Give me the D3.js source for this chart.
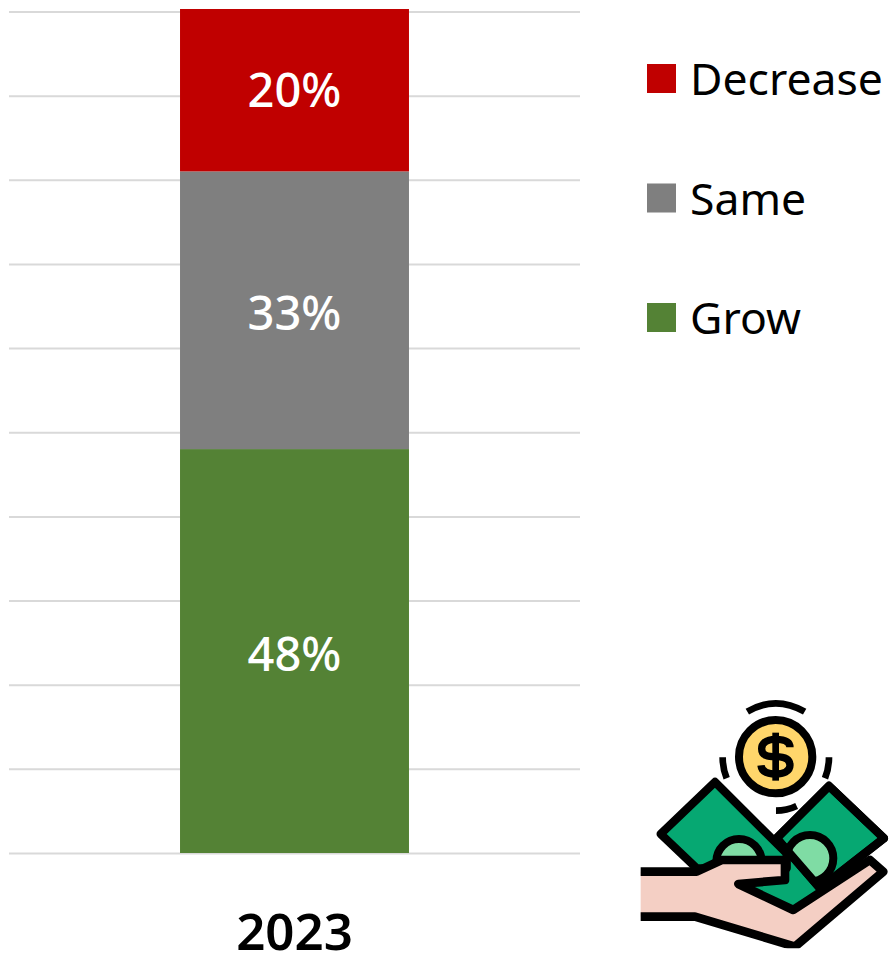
<!DOCTYPE html>
<html>
<head>
  <meta charset="utf-8">
  <script src="https://d3js.org/d3.v7.min.js"></script>
  <style>
    html, body { margin: 0; padding: 0; background: #fff; }
    svg { display: block; }
    text { font-family: "Noto Sans", "Open Sans", sans-serif; }
    .grid line { stroke: #d9d9d9; stroke-width: 2px; }
    .grid .domain { display: none; }
    .grid text { display: none; }
    .bar-label { fill: #fff; font-size: 47px; font-weight: 500; text-anchor: middle; }
    .legend-label { fill: #000; font-size: 44.5px; }
    .year-label { fill: #000; font-size: 51px; font-weight: 600; text-anchor: middle; }
  </style>
</head>
<body>
  <div id="vis"></div>
  <script>
    var years = ["2023"];
    // stack order, bottom to top
    var categories = ["Grow", "Same", "Decrease"];
    var values = [48, 33, 20];
    var colors = ["#548235", "#7f7f7f", "#c00000"];
    var legendOrder = ["Decrease", "Same", "Grow"];
    var gridTicks = [0, 10, 20, 30, 40, 50, 60, 70, 80, 90, 100];

    var width = 889, height = 953;

    var svg = d3.select("#vis").append("svg")
      .attr("width", width)
      .attr("height", height);

    var defs = svg.append("defs");

    var x = d3.scaleBand().domain(years).range([9, 580]).paddingOuter(0.747);
    var y = d3.scaleLinear().domain([0, 100]).range([853, 11.5]);
    var color = d3.scaleOrdinal().domain(categories).range(colors);

    ////////// grid //////////
    svg.append("g")
      .attr("class", "grid")
      .attr("transform", "translate(9,0)")
      .call(d3.axisRight(y).tickValues(gridTicks).tickSize(571).tickFormat(""));

    ////////// stacked bar //////////
    var row = { year: years[0] };
    categories.forEach(function (c, i) { row[c] = values[i]; });
    var series = d3.stack().keys(categories)([row]);

    // values add up to 101, the top of the bar is cut off just over the last gridline
    defs.append("clipPath").attr("id", "plot-clip")
      .append("rect").attr("x", 0).attr("y", 9).attr("width", width).attr("height", height);

    svg.append("g")
      .attr("clip-path", "url(#plot-clip)")
      .selectAll("rect")
      .data(series)
      .enter().append("rect")
      .attr("x", x(years[0]))
      .attr("width", x.bandwidth())
      .attr("y", d => y(d[0][1]))
      .attr("height", d => y(d[0][0]) - y(d[0][1]))
      .attr("fill", d => color(d.key));

    svg.append("g").selectAll("text")
      .data(series)
      .enter().append("text")
      .attr("class", "bar-label")
      .attr("x", x(years[0]) + x.bandwidth() / 2)
      .attr("y", d => (y(d[0][0]) + y(d[0][1])) / 2 + 3)
      .attr("dy", "0.36em")
      .text(d => (d[0][1] - d[0][0]) + "%");

    svg.append("text")
      .attr("class", "year-label")
      .attr("x", x(years[0]) + x.bandwidth() / 2)
      .attr("y", 950)
      .text(years[0]);

    ////////// legend //////////
    var legend = svg.append("g").selectAll("g")
      .data(legendOrder)
      .enter().append("g")
      .attr("transform", (d, i) => "translate(647," + (64 + i * 119.5) + ")");

    legend.append("rect")
      .attr("width", 29)
      .attr("height", 29)
      .attr("fill", d => color(d));

    legend.append("text")
      .attr("class", "legend-label")
      .attr("x", 43)
      .attr("y", 31)
      .text(d => d);

    ////////// money icon, drawn in 3x units //////////
    var icon = svg.append("g")
      .attr("transform", "translate(630,690) scale(0.3333)");

    var rightBill = "M597,288 L762,445 L570,595 L440,445 Z";
    var leftBill = "M255,276 L92,432 L200,535 L470,535 L470,490 Z";

    defs.append("clipPath").attr("id", "right-bill").append("path").attr("d", rightBill);
    defs.append("clipPath").attr("id", "left-bill").append("path").attr("d", leftBill);
    defs.append("clipPath").attr("id", "icon-clip")
      .append("rect").attr("x", 0).attr("y", 0).attr("width", 777).attr("height", 775);

    function shape(d, fill, w) {
      return icon.append("path")
        .attr("d", d)
        .attr("fill", fill)
        .attr("stroke", "#000")
        .attr("stroke-width", w == null ? 25 : w)
        .attr("stroke-linejoin", "round");
    }

    // sparks round the coin
    shape("M352,65 Q437,15 524,65", "none", 20);
    shape("M278,202 Q278,235 290,265", "none", 20);
    shape("M597,202 Q597,235 585,265", "none", 20);
    shape("M438,362 Q470,362 500,348", "none", 20);

    // coin
    icon.append("circle").attr("cx", 437).attr("cy", 200).attr("r", 110)
      .attr("fill", "#ffd66b").attr("stroke", "#000").attr("stroke-width", 24);
    shape("M480,172 C480,152 460,148 437,148 C405,148 395,163 395,176 C395,198 415,200 437,200 C460,200 480,204 480,226 C480,245 460,252 437,252 C410,252 395,245 393,226", "none", 22);
    shape("M437,128 L437,272", "none", 20);

    // bills
    shape("M325,582 L465,490 L580,590 L490,660 Z", "#06a872", 0);
    shape(rightBill, "#06a872");
    icon.append("circle").attr("cx", 540).attr("cy", 505).attr("r", 70)
      .attr("fill", "#7fdca4").attr("stroke", "#000").attr("stroke-width", 24)
      .attr("clip-path", "url(#right-bill)");
    shape(rightBill, "none");
    shape(leftBill, "#06a872");
    icon.append("circle").attr("cx", 327).attr("cy", 515).attr("r", 68)
      .attr("fill", "#7fdca4").attr("stroke", "#000").attr("stroke-width", 24)
      .attr("clip-path", "url(#left-bill)");

    // hand
    var handPath = "M32,545 L200,545 L275,510 L465,510 L465,570 L325,582 L490,660 L720,510 L760,545 L495,770 L195,680 L32,680";
    var hand = icon.append("g").attr("clip-path", "url(#icon-clip)");
    hand.append("path").attr("d", handPath + " Z").attr("fill", "#f4cfc4");
    hand.append("path").attr("d", handPath).attr("fill", "none")
      .attr("stroke", "#000").attr("stroke-width", 26).attr("stroke-linejoin", "round");
  </script>
</body>
</html>
